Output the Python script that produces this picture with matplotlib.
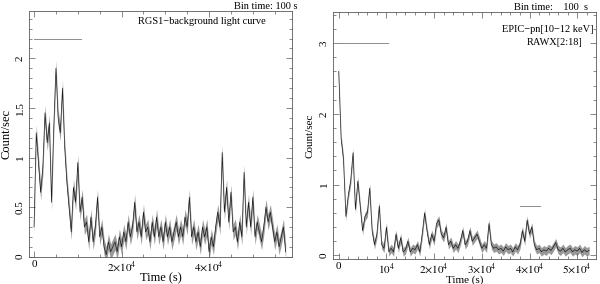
import numpy as np
import matplotlib.pyplot as plt
from matplotlib.ticker import MultipleLocator, FuncFormatter

plt.rcParams['font.family'] = ['Liberation Serif', 'DejaVu Serif']
plt.rcParams['mathtext.fontset'] = 'stix'

# RGS1 background light curve, 500 s grid
rgs_step = 500
rgs_rate = [0.3, 1.25, 0.95, 0.65, 0.9, 1.45, 1.15, 1.35, 0.55, 1.3,
            1.9, 1.4, 1.25, 1.7, 1.1, 0.75, 0.5, 0.25, 0.7, 0.55,
            0.95, 0.45, 0.6, 0.3, 0.35, 0.15, 0.4, 0.15, 0.3, 0.6,
            0.2, 0.3, 0.1, 0.02, 0.15, 0.05, 0.1, 0.15, 0.05, 0.2,
            0.1, 0.25, 0.15, 0.35, 0.2, 0.3, 0.55, 0.25, 0.35, 0.2,
            0.45, 0.25, 0.3, 0.15, 0.35, 0.2, 0.4, 0.2, 0.3, 0.15,
            0.35, 0.2, 0.3, 0.15, 0.25, 0.35, 0.2, 0.3, 0.2, 0.4,
            0.3, 0.6, 0.2, 0.3, 0.15, 0.25, 0.1, 0.3, 0.2, 0.3,
            0.05, 0.2, 0.1, 0.3, 0.45, 0.3, 1.05, 0.45, 0.7, 0.35,
            0.65, 0.25, 0.3, 0.15, 0.35, 0.2, 0.85, 0.3, 0.55, 0.3,
            0.6, 0.2, 0.35, 0.25, 0.15, 0.3, 0.5, 0.35, 0.45, 0.3,
            0.15, 0.25, 0.1, 0.2, 0.3, 0.05]
rgs_err = 0.08

# EPIC-pn 10-12 keV light curve, 500 s grid
pn_step = 500
pn_rate = [2.6, 1.65, 1.35, 0.55, 0.85, 1.05, 1.45, 0.65, 1.05, 0.7,
           0.35, 0.55, 0.6, 0.95, 0.35, 0.15, 0.3, 0.7, 0.15, 0.1,
           0.4, 0.05, 0.1, 0.05, 0.3, 0.1, 0.25, 0.05, 0.08, 0.2,
           0.05, 0.1, 0.08, 0.15, 0.05, 0.3, 0.6, 0.35, 0.15, 0.3,
           0.2, 0.45, 0.5, 0.3, 0.25, 0.4, 0.15, 0.2, 0.1, 0.15,
           0.1, 0.2, 0.35, 0.15, 0.2, 0.35, 0.2, 0.25, 0.3, 0.2,
           0.1, 0.15, 0.1, 0.45, 0.15, 0.1, 0.12, 0.08, 0.1, 0.06,
           0.12, 0.08, 0.1, 0.05, 0.12, 0.08, 0.15, 0.35, 0.2, 0.5,
           0.3, 0.4, 0.15, 0.08, 0.1, 0.05, 0.08, 0.06, 0.1, 0.07,
           0.12, 0.18, 0.08, 0.06, 0.1, 0.05, 0.08, 0.1, 0.05, 0.08,
           0.06, 0.1, 0.04, 0.08, 0.05, 0.07]
pn_err = 0.06

# reference intervals drawn as gray bars
rgs_bar = ([0, 10700], 2.2)
pn_bars = [([0, 10300], 3.0), ([38000, 42200], 0.7)]


def sci(v, pos):
    if v == 0:
        return '0'
    m = v / 1e4
    if m == 1:
        return r'$10^4$'
    return r'$%d{\times}10^4$' % round(m)


def style(ax):
    ax.tick_params(which='both', direction='in', top=True, right=True,
                   labelsize=8, color='0.35', width=0.5)
    ax.tick_params(which='major', length=4)
    ax.tick_params(which='minor', length=2)
    ax.tick_params(axis='x', pad=2)
    ax.tick_params(axis='y', pad=3)
    for lab in ax.get_yticklabels():
        lab.set_rotation(90)
        lab.set_va('center')
    for s in ax.spines.values():
        s.set_linewidth(0.6)
        s.set_color('0.35')
    ax.xaxis.set_major_formatter(FuncFormatter(sci))


fig = plt.figure(figsize=(6, 2.84), dpi=100)

ax1 = fig.add_axes([0.048, 0.096, 0.439, 0.866])
t1 = np.arange(len(rgs_rate)) * rgs_step
r1 = np.array(rgs_rate)
ax1.fill_between(t1, r1 - rgs_err, r1 + rgs_err, color='0.6', lw=0)
ax1.plot(t1, r1, color='0.1', lw=0.5)
ax1.plot(rgs_bar[0], [rgs_bar[1]] * 2, color='0.55', lw=0.7)
ax1.set_xlim(-1200, 59000)
ax1.set_ylim(0, 2.48)
ax1.xaxis.set_major_locator(MultipleLocator(20000))
ax1.xaxis.set_minor_locator(MultipleLocator(5000))
ax1.yaxis.set_major_locator(MultipleLocator(0.5))
ax1.yaxis.set_minor_locator(MultipleLocator(0.1))
ax1.yaxis.set_major_formatter(FuncFormatter(lambda v, p: '%g' % v))
ax1.set_xlabel('Time (s)', fontsize=9, labelpad=-1)
ax1.set_ylabel('Count/sec', fontsize=9, labelpad=2)
style(ax1)
ax1.text(0.9, 1.0, 'Bin time: 100 s', transform=ax1.transAxes,
         ha='center', va='bottom', fontsize=7.5)
ax1.text(0.9, 0.955, 'RGS1\u2212background light curve',
         transform=ax1.transAxes, ha='right', va='center', fontsize=7.5)

ax2 = fig.add_axes([0.555, 0.089, 0.438, 0.869])
t2 = np.arange(len(pn_rate)) * pn_step
r2 = np.array(pn_rate)
ax2.fill_between(t2, r2 - pn_err, r2 + pn_err, color='0.6', lw=0)
ax2.plot(t2, r2, color='0.1', lw=0.5)
for xs, yv in pn_bars:
    ax2.plot(xs, [yv, yv], color='0.55', lw=0.7)
ax2.set_xlim(-1200, 53900)
ax2.set_ylim(-0.047, 3.44)
ax2.xaxis.set_major_locator(MultipleLocator(10000))
ax2.xaxis.set_minor_locator(MultipleLocator(2000))
ax2.yaxis.set_major_locator(MultipleLocator(1))
ax2.yaxis.set_minor_locator(MultipleLocator(0.2))
ax2.yaxis.set_major_formatter(FuncFormatter(lambda v, p: '%g' % v))
ax2.set_xlabel('Time (s)', fontsize=8, labelpad=-1)
ax2.set_ylabel('Count/sec', fontsize=8, labelpad=4)
style(ax2)
ax2.text(0.97, 1.0, 'Bin time:    100  s', transform=ax2.transAxes,
         ha='right', va='bottom', fontsize=7.5)
ax2.text(0.99, 0.93, 'EPIC\u2212pn[10\u221212 keV]', transform=ax2.transAxes,
         ha='right', va='center', fontsize=7.5)
ax2.text(0.95, 0.875, 'RAWX[2:18]', transform=ax2.transAxes,
         ha='right', va='center', fontsize=7.5)

fig.savefig('out.png', dpi=100)
